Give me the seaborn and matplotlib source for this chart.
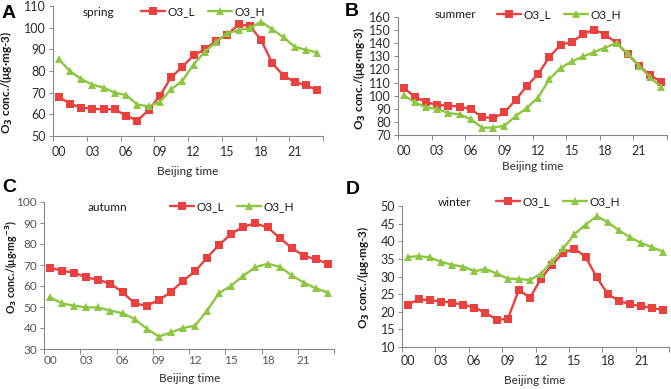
import matplotlib
matplotlib.use("Agg")
import matplotlib.pyplot as plt
import seaborn as sns
import pandas as pd
import numpy as np

hours = list(range(24))
tick_hours = [0, 3, 6, 9, 12, 15, 18, 21]
tick_labels = ["00", "03", "06", "09", "12", "15", "18", "21"]
series_names = ["O3_L", "O3_H"]

spring_L = [68.2, 64.9, 63.1, 62.6, 62.3, 62.3, 59.4, 57.1, 62.0, 68.6, 77.1, 82.0,
            87.2, 90.0, 94.0, 96.8, 101.5, 100.8, 94.3, 83.5, 77.8, 74.9, 73.4, 71.1]
spring_H = [85.5, 80.0, 76.3, 73.7, 72.3, 70.0, 68.9, 64.5, 63.7, 65.8, 71.5, 75.5,
            83.0, 88.9, 93.4, 97.4, 98.9, 99.8, 102.8, 99.2, 95.5, 91.1, 89.8, 88.5]
summer_L = [105.7, 99.3, 95.0, 93.0, 92.3, 91.7, 89.7, 83.7, 82.9, 87.2, 96.8, 107.4,
            116.5, 129.4, 138.8, 140.8, 146.9, 150.4, 146.4, 140.3, 131.4, 122.8, 115.5, 110.7]
summer_H = [100.3, 95.0, 91.0, 90.0, 86.7, 85.7, 82.1, 75.6, 75.6, 77.1, 84.4, 90.7,
            98.6, 112.5, 121.1, 126.1, 129.9, 133.2, 136.7, 140.3, 132.2, 122.8, 114.0, 106.4]
autumn_L = [68.6, 67.3, 66.3, 64.1, 62.9, 61.1, 57.1, 51.7, 50.6, 53.3, 57.1, 62.5,
            67.0, 73.5, 79.7, 84.8, 88.3, 89.8, 87.9, 83.0, 78.1, 74.4, 72.7, 70.6]
autumn_H = [54.6, 51.7, 50.6, 49.8, 49.8, 48.3, 47.0, 44.3, 39.7, 35.9, 37.9, 40.0,
            41.1, 48.3, 56.7, 60.2, 64.9, 69.0, 70.6, 69.2, 65.1, 61.6, 58.9, 56.8]
winter_L = [22.0, 23.5, 23.3, 22.9, 22.6, 22.0, 21.2, 19.7, 17.8, 17.9, 26.2, 24.0,
            29.4, 33.4, 36.7, 37.9, 35.6, 29.8, 25.0, 23.1, 22.1, 21.6, 21.1, 20.5]
winter_H = [35.5, 35.8, 35.4, 34.2, 33.3, 32.8, 31.5, 32.1, 30.9, 29.4, 29.3, 29.0,
            30.8, 34.4, 38.0, 42.0, 44.7, 47.1, 45.4, 43.1, 41.1, 39.5, 38.3, 37.0]

sns.set_theme(style="white")
plt.rcParams["font.family"] = ["Lato", "DejaVu Sans"]
plt.rcParams["mathtext.fontset"] = "dejavusans"

W, H = 671, 389
fig = plt.figure(figsize=(W / 100, H / 100), dpi=100)

def fx(x):
    return x / W

def fy(y):
    return 1 - y / H

RED = "#E8413F"
GREEN = "#8DC641"
palette = {"O3_L": RED, "O3_H": GREEN}
markers = {"O3_L": "s", "O3_H": "^"}

ylab_plain = r"O$_\mathbf{3}$ conc./(μg·mg-3)"
ylab_sup = r"O$_\mathbf{3}$ conc./(μg·mg$^{\mathbf{-3}}$)"

panels = [
    dict(letter="A", season="spring", L=spring_L, Hh=spring_H, box=(53, 323, 6, 136),
         ylim=(50, 110), ystep=10, ylab=ylab_plain, ylp=(7, 82), yls=8.5, xlp=(188, 172),
         xpad=7.5, sp=(83, 12), lx=141, letp=(2, 14), tc="#2b2b2b", ts=9),
    dict(letter="B", season="summer", L=summer_L, Hh=summer_H, box=(398, 667, 17, 135),
         ylim=(70, 160), ystep=10, ylab=ylab_plain, ylp=(360, 78), yls=8.5, xlp=(533, 167),
         xpad=7.5, sp=(435, 15), lx=497, letp=(345, 12), tc="#2b2b2b", ts=9),
    dict(letter="C", season="autumn", L=autumn_L, Hh=autumn_H, box=(44, 334, 202, 349),
         ylim=(30, 100), ystep=10, ylab=ylab_sup, ylp=(11, 267), yls=7.6, xlp=(190, 379),
         xpad=4.5, sp=(88, 207), lx=170, letp=(2, 188), tc="#555555", ts=8.5),
    dict(letter="D", season="winter", L=winter_L, Hh=winter_H, box=(402, 669, 206, 347),
         ylim=(10, 50), ystep=5, ylab=ylab_plain, ylp=(364, 277), yls=8.5, xlp=(535, 381),
         xpad=6, sp=(438, 202), lx=496, letp=(346, 189), tc="#2b2b2b", ts=9),
]

for p in panels:
    l, r, t, b = p["box"]
    ax = fig.add_axes([fx(l), fy(b), (r - l) / W, (b - t) / H])
    df = pd.DataFrame({
        "hour": hours * 2,
        "value": p["L"] + p["Hh"],
        "series": [series_names[0]] * 24 + [series_names[1]] * 24,
    })
    sns.lineplot(data=df, x="hour", y="value", hue="series", style="series",
                 palette=palette, markers=markers, dashes=False, ax=ax,
                 linewidth=1.7, markersize=5.5, markeredgewidth=0, legend=False)
    ax.set_xlim(-0.5, 23.5)
    ax.set_ylim(*p["ylim"])
    ax.set_yticks(np.arange(p["ylim"][0], p["ylim"][1] + 0.1, p["ystep"]))
    ax.set_xticks(tick_hours)
    ax.set_xticklabels(tick_labels)
    ax.set_xticks([h - 0.5 for h in tick_hours] + [23.5], minor=True)
    ax.tick_params(axis="x", which="major", length=0, pad=p["xpad"], labelsize=p["ts"],
                   labelcolor=p["tc"])
    ax.tick_params(axis="x", which="minor", length=3.5, width=0.7, color="#888888",
                   direction="out", bottom=True)
    ax.tick_params(axis="y", length=3, width=0.7, color="#888888", direction="out",
                   left=True, pad=2, labelsize=p["ts"], labelcolor=p["tc"])
    for s in ["top", "right"]:
        ax.spines[s].set_visible(False)
    for s in ["left", "bottom"]:
        ax.spines[s].set_color("#888888")
        ax.spines[s].set_linewidth(0.8)
    ax.set_xlabel("")
    ax.set_ylabel("")
    ax.patch.set_alpha(0)

    fig.text(fx(p["ylp"][0]), fy(p["ylp"][1]), p["ylab"], rotation=90,
             ha="center", va="center", fontsize=p["yls"], fontweight="bold",
             color="#1a1a1a")
    fig.text(fx(p["xlp"][0]), fy(p["xlp"][1]), "Beijing time", ha="center",
             va="center", fontsize=8.5, color="#2b2b2b")
    fig.text(fx(p["sp"][0]), fy(p["sp"][1]), p["season"], ha="left", va="center",
             fontsize=8.5, color="#1a1a1a")
    fig.text(fx(p["letp"][0]), fy(p["letp"][1]), p["letter"], ha="left", va="center",
             fontsize=14, fontweight="bold", family="Liberation Sans", color="black")

    handles = [ax.lines[0], ax.lines[1]]
    ax.legend(handles, series_names, loc="center left",
              bbox_to_anchor=(fx(p["lx"]), fy(p["sp"][1])),
              bbox_transform=fig.transFigure, ncol=2, frameon=False,
              borderpad=0, borderaxespad=0, handletextpad=0.25,
              columnspacing=1.1, handlelength=2.0, fontsize=8.5,
              labelcolor="#1a1a1a")

fig.savefig("out.png", dpi=100)
